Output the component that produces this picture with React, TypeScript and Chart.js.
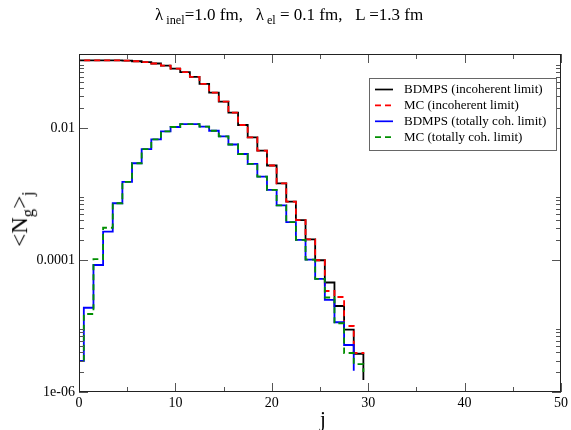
import React, { useEffect, useRef } from "react";
import { Chart, registerables } from "chart.js";

Chart.register(...registerables);

// ---- data (j bins, one value per bin) ----
const J = [0, 1, 2, 3, 4, 5, 6, 7, 8, 9, 10, 11, 12, 13, 14, 15, 16, 17, 18, 19, 20, 21, 22, 23, 24, 25, 26, 27, 28, 29, 30, 31];

const BDMPS_INCOH = [0.106, 0.106, 0.106, 0.1058, 0.1055, 0.1045, 0.1025, 0.0995, 0.0948, 0.0879, 0.079, 0.07, 0.0593, 0.0464, 0.0343, 0.025, 0.0171, 0.0111, 0.00722, 0.00453, 0.0027, 0.00145, 0.000764, 0.000403, 0.000205, 0.000099, 0.0000456, 0.0000201, 0.0000088, 0.0000038, 0.00000152, 0];

const MC_INCOH = [0.106, 0.106, 0.106, 0.1058, 0.1055, 0.1045, 0.1025, 0.0995, 0.0948, 0.0879, 0.079, 0.07, 0.0593, 0.0464, 0.0343, 0.025, 0.0171, 0.0111, 0.00722, 0.00453, 0.0027, 0.00145, 0.000764, 0.000403, 0.000205, 0.000099, 0.0000339, 0.0000275, 0.00001, 0.0000039, 0.00000404, 0];

const BDMPS_COH = [0.00000295, 0.0000189, 0.0000839, 0.000268, 0.000723, 0.00153, 0.00292, 0.00477, 0.00674, 0.00891, 0.01035, 0.0114, 0.0114, 0.0105, 0.00908, 0.00748, 0.00562, 0.00403, 0.00285, 0.00183, 0.00115, 0.00067, 0.000374, 0.000201, 0.000101, 0.0000519, 0.0000248, 0.0000114, 0.00000515, 0.0000021, 0, null];

const MC_COH = [0.00000295, 0.0000152, 0.000103, 0.000308, 0.000723, 0.00153, 0.00292, 0.00477, 0.00674, 0.00891, 0.01035, 0.0114, 0.0114, 0.0105, 0.00908, 0.00748, 0.00562, 0.00403, 0.00285, 0.00183, 0.00115, 0.00067, 0.000374, 0.000201, 0.000101, 0.0000519, 0.000027, 0.000011, 0.0000039, 0.00000265, 0.00000201, 0];

const SERIES_LABELS = [
  "BDMPS (incoherent limit)",
  "MC (incoherent limit)",
  "BDMPS (totally coh. limit)",
  "MC (totally coh. limit)",
];

const X_TICKS = [0, 10, 20, 30, 40, 50];
const X_MINOR_TICKS = [5, 15, 25, 35, 45];
const Y_TICKS = [1e-6, 1e-4, 1e-2];
const Y_TICK_LABELS = ["1e-06", "0.0001", "0.01"];
const Y_MINOR_MULT = [2, 3, 4, 5, 6, 7, 8, 9];

const SERIF = '"Liberation Serif", "DejaVu Serif", serif';

// each bin j spans [j-0.5, j+0.5]; stepped 'before' keeps the level up to the next edge
function toSteps(values: (number | null)[]) {
  return J.map((j, i) => ({ x: j - 0.5, y: values[i] }));
}

const decorPlugin = {
  id: "decor",
  afterDatasetsDraw(chart: any) {
    const { ctx, chartArea: a, scales } = chart;
    const xs = scales.x;
    const ys = scales.y;
    ctx.save();
    ctx.strokeStyle = "#555";
    ctx.lineWidth = 1;
    const xt = (vals: number[], len: number) => {
      vals.forEach((v) => {
        const px = Math.round(xs.getPixelForValue(v)) + 0.5;
        ctx.beginPath();
        ctx.moveTo(px, a.bottom);
        ctx.lineTo(px, a.bottom - len);
        ctx.moveTo(px, a.top);
        ctx.lineTo(px, a.top + len);
        ctx.stroke();
      });
    };
    const yt = (vals: number[], len: number) => {
      vals.forEach((v) => {
        const py = Math.round(ys.getPixelForValue(v)) + 0.5;
        ctx.beginPath();
        ctx.moveTo(a.left, py);
        ctx.lineTo(a.left + len, py);
        ctx.moveTo(a.right, py);
        ctx.lineTo(a.right - len, py);
        ctx.stroke();
      });
    };
    xt(X_TICKS, 9);
    xt(X_MINOR_TICKS, 5);
    yt(Y_TICKS, 9);
    const minors: number[] = [];
    Y_TICKS.forEach((b) => Y_MINOR_MULT.forEach((m) => minors.push(b * m)));
    yt(minors.filter((v) => v < ys.max), 5);

    // frame
    ctx.strokeStyle = "#222";
    ctx.lineWidth = 1;
    ctx.strokeRect(a.left + 0.5, a.top + 0.5, a.right - a.left - 1, a.bottom - a.top - 1);

    // legend box
    const bx = 369.5, by = 78.5, bw = 187, bh = 72;
    ctx.fillStyle = "#fff";
    ctx.fillRect(bx, by, bw, bh);
    ctx.strokeStyle = "#666";
    ctx.strokeRect(bx, by, bw, bh);
    ctx.font = `13px ${SERIF}`;
    ctx.textBaseline = "middle";
    ctx.textAlign = "left";
    chart.data.datasets.forEach((ds: any, i: number) => {
      const ry = 89.5 + i * 15.9;
      ctx.strokeStyle = ds.borderColor;
      ctx.lineWidth = 1.7;
      ctx.setLineDash(ds.borderDash || []);
      ctx.beginPath();
      ctx.moveTo(375, ry);
      ctx.lineTo(393, ry);
      ctx.stroke();
      ctx.setLineDash([]);
      ctx.fillStyle = "#000";
      ctx.fillText(ds.label, 404, ry + 0.5);
    });
    ctx.restore();
  },
};

export default function App() {
  const canvasRef = useRef<HTMLCanvasElement>(null);

  useEffect(() => {
    const canvas = canvasRef.current;
    if (!canvas) return;
    const common = {
      stepped: "before" as const,
      pointRadius: 0,
      borderWidth: 1.8,
      fill: false,
      clip: 0,
      spanGaps: false,
    };
    const chart = new Chart(canvas, {
      type: "line",
      data: {
        datasets: [
          { ...common, label: SERIES_LABELS[0], data: toSteps(BDMPS_INCOH), borderColor: "#000000", order: 3 },
          { ...common, label: SERIES_LABELS[1], data: toSteps(MC_INCOH), borderColor: "#ff0000", borderDash: [6, 4], order: 2 },
          { ...common, label: SERIES_LABELS[2], data: toSteps(BDMPS_COH), borderColor: "#0000ff", order: 1 },
          { ...common, label: SERIES_LABELS[3], data: toSteps(MC_COH), borderColor: "#008f00", borderDash: [6, 4], order: 0 },
        ] as any,
      },
      options: {
        responsive: false,
        devicePixelRatio: 1,
        animation: false,
        layout: { padding: { top: 54, right: 8, left: 0, bottom: 0 } },
        plugins: {
          legend: { display: false },
          tooltip: { enabled: false },
          title: { display: false },
        },
        scales: {
          x: {
            type: "linear",
            min: 0,
            max: 50,
            grid: { display: false, drawTicks: false },
            border: { display: false },
            afterBuildTicks: (s: any) => {
              s.ticks = X_TICKS.map((v) => ({ value: v }));
            },
            afterFit: (s: any) => {
              s.height = 38;
            },
            ticks: {
              autoSkip: false,
              maxRotation: 0,
              padding: 3,
              color: "#000",
              font: { family: SERIF, size: 14 },
              callback: (v: any) => String(v),
            },
          },
          y: {
            type: "logarithmic",
            min: 1e-6,
            max: 0.132,
            grid: { display: false, drawTicks: false },
            border: { display: false },
            afterBuildTicks: (s: any) => {
              s.ticks = Y_TICKS.map((v) => ({ value: v }));
            },
            afterFit: (s: any) => {
              s.width = 79;
            },
            ticks: {
              autoSkip: false,
              padding: 4,
              color: "#000",
              font: { family: SERIF, size: 14 },
              callback: (v: any) => {
                const idx = Y_TICKS.findIndex((t) => Math.abs(t - v) / t < 1e-6);
                return idx >= 0 ? Y_TICK_LABELS[idx] : "";
              },
            },
          },
        },
      },
      plugins: [decorPlugin],
    });
    return () => chart.destroy();
  }, []);

  const sub: React.CSSProperties = { fontSize: "0.72em", verticalAlign: "-0.35em" };

  return (
    <div style={{ position: "fixed", left: 0, top: 0, width: 571, height: 430, background: "#fff", overflow: "hidden" }}>
      <canvas ref={canvasRef} width={571} height={430} style={{ position: "absolute", left: 0, top: 0, width: 571, height: 430 }} />
      <div
        style={{
          position: "absolute",
          left: 155,
          top: 5,
          fontFamily: SERIF,
          fontSize: 17,
          whiteSpace: "pre",
          color: "#000",
          lineHeight: "20px",
        }}
      >
        λ<span style={sub}> inel</span>=1.0 fm,   λ<span style={sub}> el</span> = 0.1 fm,   L =1.3 fm
      </div>
      <div
        style={{
          position: "absolute",
          left: 24,
          top: 219,
          transform: "translate(-50%, -50%) rotate(-90deg)",
          fontFamily: SERIF,
          fontSize: 23,
          whiteSpace: "pre",
          color: "#000",
          lineHeight: "26px",
        }}
      >
        {"<N"}
        <span style={sub}>g</span>
        {">"}
        <span style={sub}>j</span>
      </div>
      <div
        style={{
          position: "absolute",
          left: 323,
          top: 408,
          transform: "translateX(-50%)",
          fontFamily: SERIF,
          fontSize: 21,
          color: "#000",
          lineHeight: "22px",
        }}
      >
        j
      </div>
    </div>
  );
}
